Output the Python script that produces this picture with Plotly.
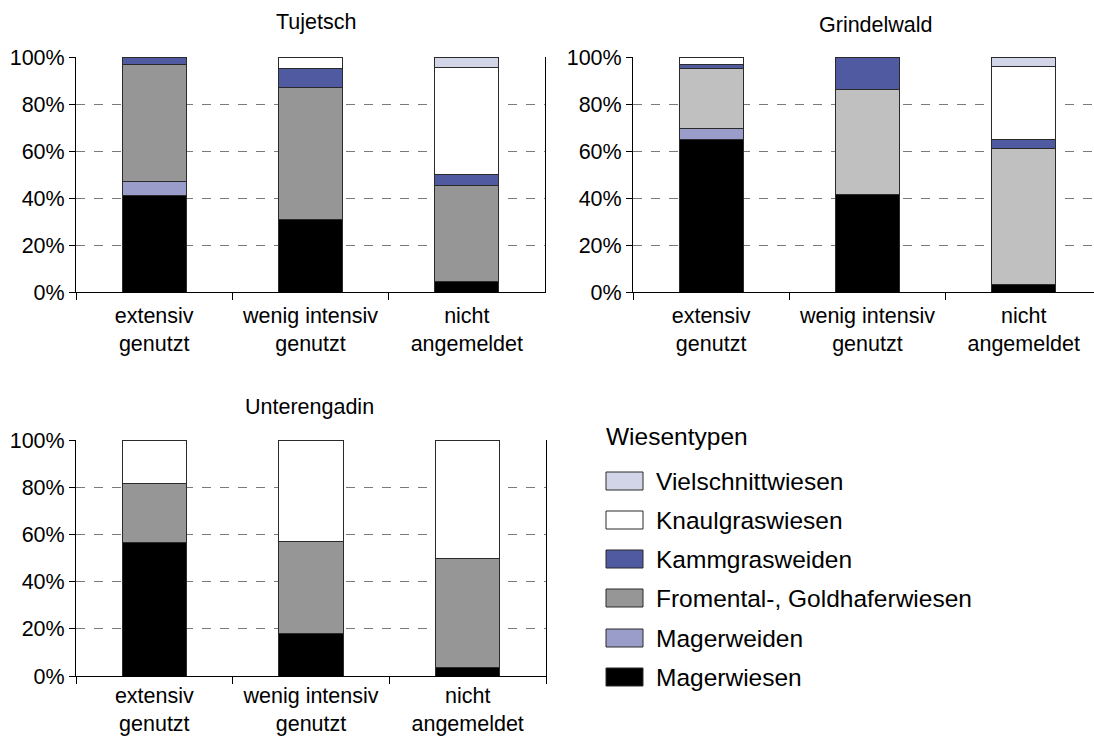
import plotly.graph_objects as go

categories = ["extensiv<br>genutzt", "wenig intensiv<br>genutzt", "nicht<br>angemeldet"]
series_names = ["Magerwiesen", "Magerweiden", "Fromental-, Goldhaferwiesen",
                "Kammgrasweiden", "Knaulgraswiesen", "Vielschnittwiesen"]
series_colors = ["#000000", "#9a9dc9", "#969696", "#4f5aa0", "#ffffff", "#d2d5e8"]
grindelwald_fromental_color = "#c0c0c0"

# percentages per category (extensiv, wenig intensiv, nicht angemeldet)
tujetsch = {
    "Magerwiesen": [41, 31, 4.5],
    "Magerweiden": [6, 0, 0],
    "Fromental-, Goldhaferwiesen": [50, 56, 41],
    "Kammgrasweiden": [3, 8, 4.5],
    "Knaulgraswiesen": [0, 5, 45.5],
    "Vielschnittwiesen": [0, 0, 4.5],
}
grindelwald = {
    "Magerwiesen": [65, 41.5, 3],
    "Magerweiden": [4.5, 0, 0],
    "Fromental-, Goldhaferwiesen": [25.5, 44.5, 58],
    "Kammgrasweiden": [2, 14, 4],
    "Knaulgraswiesen": [3, 0, 31],
    "Vielschnittwiesen": [0, 0, 4],
}
unterengadin = {
    "Magerwiesen": [56.5, 18, 3.5],
    "Magerweiden": [0, 0, 0],
    "Fromental-, Goldhaferwiesen": [25, 39, 46.5],
    "Kammgrasweiden": [0, 0, 0],
    "Knaulgraswiesen": [18.5, 43, 50],
    "Vielschnittwiesen": [0, 0, 0],
}
panel_titles = ["Tujetsch", "Grindelwald", "Unterengadin"]
panel_data = [tujetsch, grindelwald, unterengadin]
y_ticks = [0, 20, 40, 60, 80, 100]

W, H = 1094, 738
FONT = "Liberation Sans, Arial, sans-serif"
TICK_SIZE = 21.5
LEG_SIZE = 24.5

def px(x):
    return x / W

def py(y):
    return 1 - y / H

# plot areas in pixels: (left, right, top(100%), bottom(0%))
areas = [(76, 545, 57, 292), (633, 1094, 57, 292), (76, 546, 440, 676)]
xranges = [[-0.5, 2.5], [-0.5, 2.45], [-0.5, 2.5]]
standoffs = [4, 4, 0]

fig = go.Figure()
for i, (data, title) in enumerate(zip(panel_data, panel_titles)):
    ax = "" if i == 0 else str(i + 1)
    for name, color in zip(series_names, series_colors):
        c = color
        if i == 1 and name == "Fromental-, Goldhaferwiesen":
            c = grindelwald_fromental_color
        fig.add_trace(go.Bar(
            x=categories, y=data[name], name=name,
            marker=dict(color=c, line=dict(color="#2a2a2a", width=1)),
            width=0.41, xaxis="x" + ax, yaxis="y" + ax, showlegend=False,
            hoverinfo="skip",
        ))
    l, r, t, b = areas[i]
    mirror = i != 1
    fig.update_layout(**{
        "xaxis" + ax: dict(
            domain=[px(l), px(r)], anchor="y" + ax, range=xranges[i],
            showline=True, linecolor="black", linewidth=1, mirror=False,
            ticks="outside", ticklen=7, tickcolor="black", tickson="boundaries",
            tickfont=dict(family=FONT, size=TICK_SIZE, color="black"),
            ticklabelstandoff=standoffs[i],
            showgrid=False, fixedrange=True, automargin=False,
        ),
        "yaxis" + ax: dict(
            domain=[py(b), py(t)], anchor="x" + ax, range=[0, 100],
            tickvals=y_ticks, ticktext=[f"{v}%" for v in y_ticks],
            showline=True, linecolor="black", linewidth=1, mirror=mirror,
            ticks="outside", ticklen=6, tickcolor="black",
            tickfont=dict(family=FONT, size=TICK_SIZE, color="black"),
            showgrid=True, gridcolor="#7a7a7a", gridwidth=1, griddash="dash",
            zeroline=False, fixedrange=True, automargin=False,
        ),
    })

# panel titles
title_pos = [(316, 22), (876, 25), (309, 407)]
for title, (tx, ty) in zip(panel_titles, title_pos):
    fig.add_annotation(x=px(tx), y=py(ty), xref="paper", yref="paper",
                       text=title, showarrow=False, xanchor="center", yanchor="middle",
                       font=dict(family=FONT, size=21.5, color="black"))

# legend (drawn top-down: last series first)
fig.add_annotation(x=px(604), y=py(436), xref="paper", yref="paper",
                   text="Wiesentypen", showarrow=False, xanchor="left", yanchor="middle",
                   font=dict(family=FONT, size=LEG_SIZE, color="black"))
leg_y = [481, 520, 559, 598, 638, 677]
for k, (name, color) in enumerate(zip(series_names[::-1], series_colors[::-1])):
    cy = leg_y[k]
    fig.add_shape(type="rect", xref="paper", yref="paper",
                  x0=px(606), x1=px(643), y0=py(cy + 9), y1=py(cy - 9),
                  fillcolor=color, line=dict(color="#2a2a2a", width=1))
    fig.add_annotation(x=px(654), y=py(cy), xref="paper", yref="paper",
                       text=name, showarrow=False, xanchor="left", yanchor="middle",
                       font=dict(family=FONT, size=LEG_SIZE, color="black"))

fig.update_layout(
    barmode="stack", width=W, height=H,
    margin=dict(l=0, r=0, t=0, b=0, autoexpand=False),
    paper_bgcolor="white", plot_bgcolor="white",
    bargap=0.59,
)
fig.write_html(
    "out.html",
    config={"displayModeBar": False},
    post_script="document.body.style.margin='0';document.body.style.overflow='hidden';",
)
